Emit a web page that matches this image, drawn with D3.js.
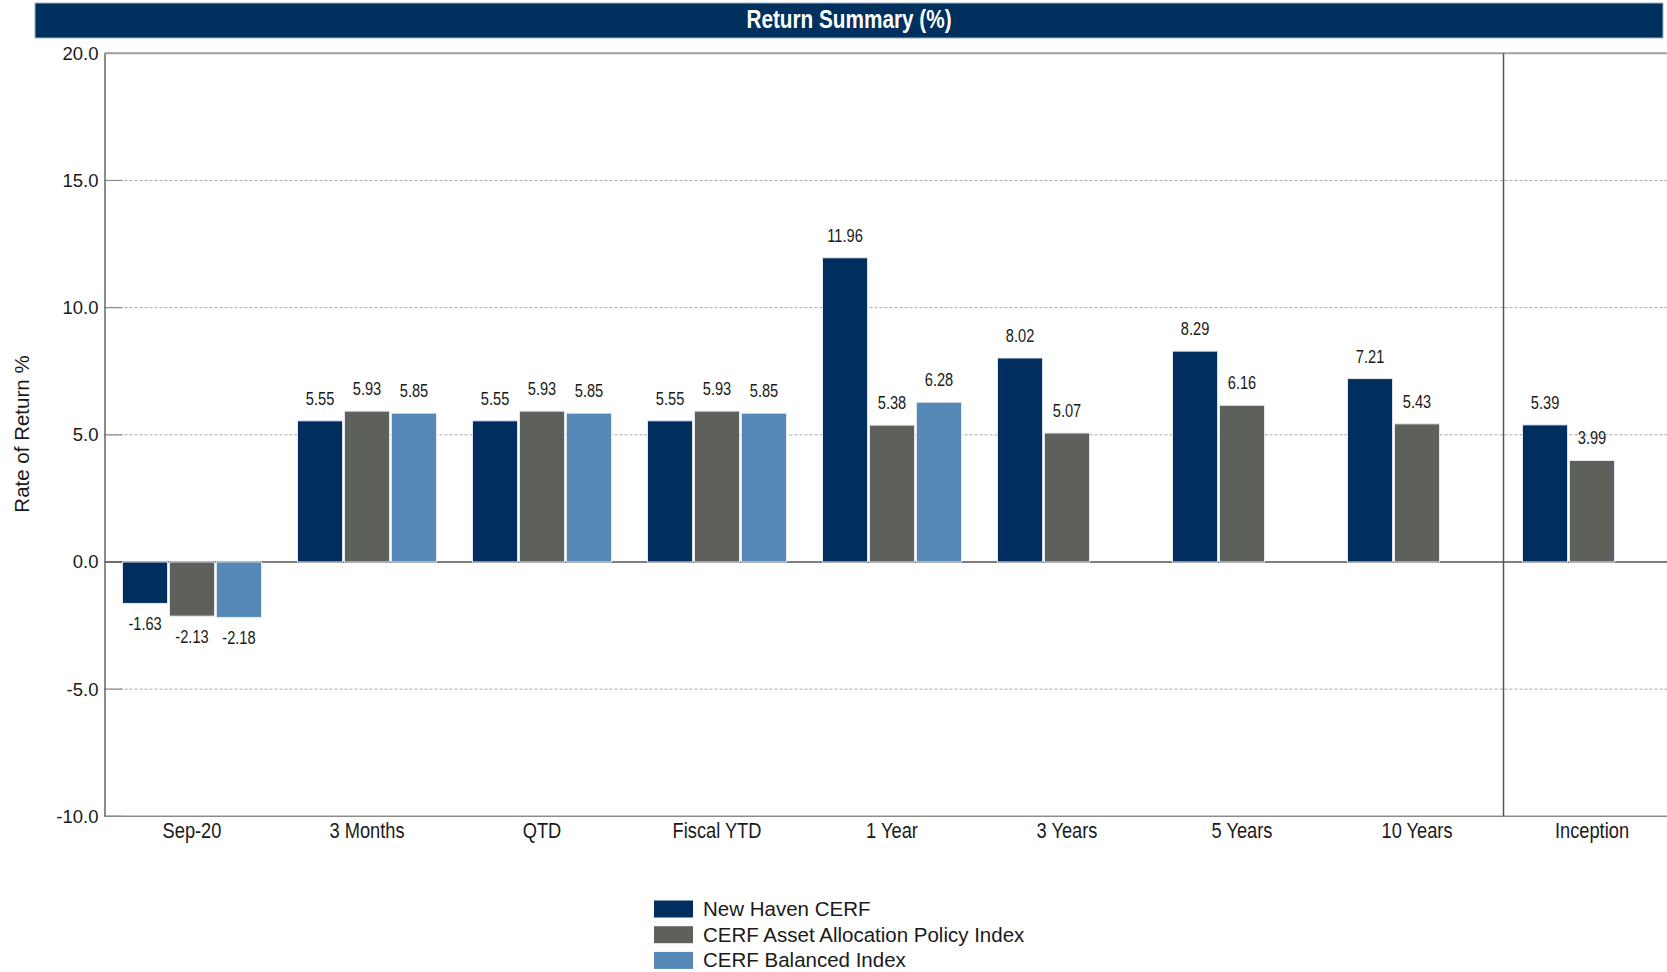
<!DOCTYPE html>
<meta charset="utf-8">
<style>
html,body {
  margin: 0px;
  padding: 0px;
  overflow: hidden;
  background-color: white;
}
text { font-family: "Liberation Sans", Arial, sans-serif; fill: #1a1a1a; }
.tick text { font-size: 18.5px; }
.grid line { stroke: #a8a8a8; stroke-dasharray: 3,2; }
</style>
<body>
<svg></svg>
</body>
<script src="https://cdnjs.cloudflare.com/ajax/libs/d3/7.8.5/d3.min.js"></script>
<script>

var categories = ["Sep-20", "3 Months", "QTD", "Fiscal YTD", "1 Year", "3 Years", "5 Years", "10 Years", "Inception"];
var seriesNames = ["New Haven CERF", "CERF Asset Allocation Policy Index", "CERF Balanced Index"];
var newHaven = [-1.63, 5.55, 5.55, 5.55, 11.96, 8.02, 8.29, 7.21, 5.39];
var policyIndex = [-2.13, 5.93, 5.93, 5.93, 5.38, 5.07, 6.16, 5.43, 3.99];
var balancedIndex = [-2.18, 5.85, 5.85, 5.85, 6.28, null, null, null, null];
var yTicks = [-10, -5, 0, 5, 10, 15, 20];
var colors = ["#002f5f", "#5e605c", "#5588b7"];

(function() {
  var W = 1667, H = 972;
  var svg = d3.select("svg").attr("width", W).attr("height", H);

  var left = 104.5, plotTop = 53.3, plotBottom = 816.3, step = 175;
  var squeeze = 0.83; // narrow-font look

  var x = d3.scaleBand().domain(categories).range([left, left + step * categories.length]);
  var xs = d3.scaleBand().domain(seriesNames).range([18, 157]).paddingInner(0.04);
  var y = d3.scaleLinear().domain([-10, 20]).range([plotBottom, plotTop]);

  function narrowAt(px, py, k) {
    return "translate(" + px + "," + py + ") scale(" + (k || squeeze) + ",1)";
  }

  var rows = [];
  var all = [newHaven, policyIndex, balancedIndex];
  categories.forEach(function(c, i) {
    all.forEach(function(s, j) {
      if (s[i] != null) rows.push({cat: c, name: seriesNames[j], idx: j, v: s[i]});
    });
  });

  // title bar
  svg.append("rect").attr("x", 35).attr("y", 3).attr("width", 1628).attr("height", 35)
    .attr("fill", "#00305e").attr("stroke", "#9fb2c6").attr("stroke-width", 1);
  svg.append("text").attr("transform", narrowAt(849, 28))
    .attr("text-anchor", "middle").attr("font-size", 25).attr("font-weight", "bold")
    .style("fill", "white").text("Return Summary (%)");

  // grid lines
  svg.append("g").attr("class", "grid")
    .selectAll("line").data(yTicks.filter(function(d) { return d != 0 && d != 20 && d != -10; }))
    .enter().append("line")
    .attr("x1", left).attr("x2", W)
    .attr("y1", function(d) { return y(d); }).attr("y2", function(d) { return y(d); });

  // small solid inner ticks
  svg.append("g").selectAll("line").data(yTicks).enter().append("line")
    .attr("x1", left).attr("x2", left + 18)
    .attr("y1", function(d) { return y(d); }).attr("y2", function(d) { return y(d); })
    .attr("stroke", "#8c8c8c").attr("stroke-width", 1.2);

  // frame
  svg.append("line").attr("x1", left).attr("x2", W).attr("y1", y(20)).attr("y2", y(20))
    .attr("stroke", "#a0a0a0").attr("stroke-width", 2);
  svg.append("line").attr("x1", left).attr("x2", W).attr("y1", y(-10)).attr("y2", y(-10))
    .attr("stroke", "#8c8c8c").attr("stroke-width", 1.5);
  svg.append("line").attr("x1", left).attr("x2", W).attr("y1", y(0)).attr("y2", y(0))
    .attr("stroke", "#555").attr("stroke-width", 1.5);

  // bars
  svg.append("g").selectAll("rect").data(rows).enter().append("rect")
    .attr("x", function(d) { return x(d.cat) + xs(d.name); })
    .attr("width", xs.bandwidth())
    .attr("y", function(d) { return y(Math.max(0, d.v)); })
    .attr("height", function(d) { return Math.abs(y(d.v) - y(0)); })
    .attr("fill", function(d) { return colors[d.idx]; })
    .attr("stroke", "#e4e8ee").attr("stroke-width", 1);

  // value labels
  svg.append("g").selectAll("text").data(rows).enter().append("text")
    .attr("transform", function(d) {
      var cx = x(d.cat) + xs(d.name) + xs.bandwidth() / 2;
      var cy = d.v >= 0 ? y(d.v) - 16 : y(d.v) + 27;
      return narrowAt(cx, cy, 0.79);
    })
    .attr("text-anchor", "middle").attr("font-size", 18.5)
    .text(function(d) { return d.v.toFixed(2); });

  // divider before Inception
  svg.append("line").attr("x1", x("Inception") - 1).attr("x2", x("Inception") - 1)
    .attr("y1", y(20)).attr("y2", y(-10)).attr("stroke", "#555").attr("stroke-width", 1.5);

  // y axis
  var yAxis = svg.append("g").attr("transform", "translate(" + left + ",0)")
    .call(d3.axisLeft(y).tickValues(yTicks)
      .tickFormat(function(d) { return d.toFixed(1); })
      .tickSize(0).tickPadding(6));
  yAxis.select(".domain").attr("stroke", "#666").attr("stroke-width", 1.5);
  yAxis.selectAll(".tick text").style("fill", "#1a1a1a");

  // x labels
  svg.append("g").selectAll("text").data(categories).enter().append("text")
    .attr("transform", function(d) { return narrowAt(x(d) + x.bandwidth() / 2, 837.5); })
    .attr("text-anchor", "middle").attr("font-size", 22)
    .text(function(d) { return d; });

  // y title
  svg.append("text").attr("transform", "translate(29,434) rotate(-90)")
    .attr("text-anchor", "middle").attr("font-size", 20.5).text("Rate of Return %");

  // legend
  var lg = svg.append("g").selectAll("g").data(seriesNames).enter().append("g")
    .attr("transform", function(d, i) { return "translate(654," + (900.5 + i * 25.7) + ")"; });
  lg.append("rect").attr("width", 39).attr("height", 17).attr("fill", function(d, i) { return colors[i]; });
  lg.append("text").attr("x", 49).attr("y", 15.5).attr("font-size", 20.5).text(function(d) { return d; });
})();

</script>
